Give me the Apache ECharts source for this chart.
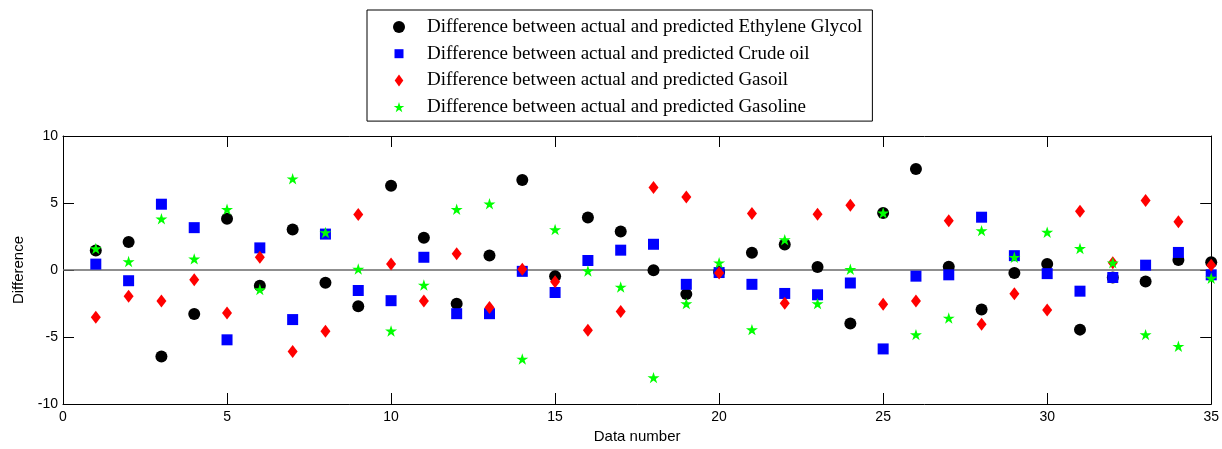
<!DOCTYPE html>
<html>
<head>
<meta charset="utf-8">
<script src="https://cdn.jsdelivr.net/npm/echarts@6/dist/echarts.min.js"></script>
<style>
html,body{margin:0;padding:0;background:#fff;}
#chart{width:1222px;height:449px;}
</style>
</head>
<body>
<div id="chart"></div>
<script>
const dataNumber = [1,2,3,4,5,6,7,8,9,10,11,12,13,14,15,16,17,18,19,20,21,22,23,24,25,26,27,28,29,30,31,32,33,34,35];
const ethyleneGlycol = [1.46, 2.09, -6.45, -3.28, 3.82, -1.17, 3.02, -0.95, -2.7, 6.28, 2.41, -2.51, 1.09, 6.72, -0.46, 3.92, 2.87, -0.02, -1.8, -0.15, 1.29, 1.9, 0.22, -3.99, 4.26, 7.54, 0.24, -2.94, -0.22, 0.44, -4.45, -0.56, -0.85, 0.75, 0.58];
const crudeOil = [0.44, -0.8, 4.91, 3.16, -5.21, 1.65, -3.7, 2.68, -1.53, -2.29, 0.95, -3.26, -3.26, -0.1, -1.68, 0.71, 1.48, 1.92, -1.07, -0.19, -1.07, -1.75, -1.85, -0.97, -5.89, -0.46, -0.36, 3.94, 1.07, -0.27, -1.58, -0.56, 0.36, 1.31, -0.36];
const gasoil = [-3.53, -1.95, -2.31, -0.73, -3.21, 0.95, -6.08, -4.57, 4.14, 0.44, -2.31, 1.22, -2.8, 0.05, -0.88, -4.5, -3.09, 6.16, 5.45, -0.22, 4.21, -2.48, 4.16, 4.84, -2.55, -2.31, 3.67, -4.04, -1.78, -2.99, 4.38, 0.54, 5.18, 3.6, 0.36];
const gasoline = [1.6, 0.63, 3.82, 0.83, 4.53, -1.46, 6.81, 2.8, 0.07, -4.55, -1.12, 4.53, 4.94, -6.64, 3.02, -0.07, -1.27, -8.03, -2.51, 0.54, -4.45, 2.26, -2.51, 0.05, 4.26, -4.82, -3.58, 2.94, 0.95, 2.82, 1.61, 0.54, -4.82, -5.69, -0.61];
const seriesNames = [
  'Difference between actual and predicted Ethylene Glycol',
  'Difference between actual and predicted Crude oil',
  'Difference between actual and predicted Gasoil',
  'Difference between actual and predicted Gasoline'
];
const xTicks = {min: 0, max: 35, interval: 5};
const yTicks = {min: -10, max: 10, interval: 5};

function pairs(vals){ return dataNumber.map((n,i)=>[n, vals[i]]); }

const sansFont = 'Liberation Sans, Arial, sans-serif';
const chart = echarts.init(document.getElementById('chart'), null, {renderer: 'canvas'});

// marker shapes
const starSymbol = 'path://M100,0 L122.45,69.1 L195.11,69.1 L136.33,111.8 L158.78,180.9 L100,138.2 L41.22,180.9 L63.67,111.8 L4.89,69.1 L77.55,69.1 Z';
// legend icons, padded inside a 46x12 box so the glyph sits centred
const legendSquare = 'path://M0,0 M18.5,1.5 L27.5,1.5 L27.5,10.5 L18.5,10.5 Z M46,12';
const legendDiamond = 'path://M0,0 M23,0 L27.3,6 L23,12 L18.7,6 Z M46,12';
const legendStar = 'path://M0,0 M23,1 L24.26,4.87 L28.33,4.87 L25.03,7.26 L26.29,11.13 L23,8.74 L19.71,11.13 L20.97,7.26 L17.67,4.87 L21.74,4.87 Z M46,12';

const axisCommon = {
  type: 'value',
  axisLine: {show: true, onZero: false, lineStyle: {color: '#000', width: 1}},
  axisTick: {show: true, inside: true, length: 11, lineStyle: {color: '#000', width: 1}},
  splitLine: {show: false}
};

chart.setOption({
  animation: false,
  backgroundColor: '#fff',
  grid: {left: 63, right: 9, top: 136, bottom: 39, containLabel: false},
  legend: {
    orient: 'vertical',
    left: 367, top: 10,
    padding: [7, 10, 4, 9],
    itemGap: 6.7,
    itemWidth: 46, itemHeight: 12,
    borderColor: '#000', borderWidth: 1,
    selectedMode: false,
    textStyle: {fontFamily: 'Liberation Serif, Times New Roman, serif', fontSize: 19, color: '#000', lineHeight: 20},
    data: [
      {name: seriesNames[0], icon: 'circle'},
      {name: seriesNames[1], icon: legendSquare},
      {name: seriesNames[2], icon: legendDiamond},
      {name: seriesNames[3], icon: legendStar}
    ]
  },
  xAxis: [
    Object.assign({}, axisCommon, {
      min: xTicks.min, max: xTicks.max, interval: xTicks.interval, position: 'bottom',
      axisLabel: {show: true, fontFamily: sansFont, fontSize: 14, color: '#000', margin: 6},
      name: 'Data number', nameLocation: 'middle', nameGap: 25,
      nameTextStyle: {fontFamily: sansFont, fontSize: 15, color: '#000'}
    }),
    Object.assign({}, axisCommon, {
      min: xTicks.min, max: xTicks.max, interval: xTicks.interval, position: 'top',
      axisLabel: {show: false}
    })
  ],
  yAxis: [
    Object.assign({}, axisCommon, {
      min: yTicks.min, max: yTicks.max, interval: yTicks.interval, position: 'left',
      axisLabel: {show: true, fontFamily: sansFont, fontSize: 14, color: '#000', margin: 5},
      name: 'Difference', nameLocation: 'middle', nameGap: 37, nameRotate: 90,
      nameTextStyle: {fontFamily: sansFont, fontSize: 15, color: '#000'}
    }),
    Object.assign({}, axisCommon, {
      min: yTicks.min, max: yTicks.max, interval: yTicks.interval, position: 'right',
      axisLabel: {show: false}
    })
  ],
  series: [
    {
      name: seriesNames[0], type: 'scatter', xAxisIndex: 0, yAxisIndex: 0,
      symbol: 'circle', symbolSize: 12, z: 2,
      itemStyle: {color: '#000000', opacity: 1},
      data: pairs(ethyleneGlycol),
      markLine: {
        silent: true, z: 1, symbol: ['none', 'none'],
        label: {show: false},
        lineStyle: {color: '#6a6a6a', width: 1.5, type: 'solid'},
        emphasis: {disabled: true},
        data: [{yAxis: 0}]
      }
    },
    {
      name: seriesNames[1], type: 'scatter', xAxisIndex: 0, yAxisIndex: 0,
      symbol: 'rect', symbolSize: 11, z: 2,
      itemStyle: {color: '#0000ff', opacity: 1},
      data: pairs(crudeOil)
    },
    {
      name: seriesNames[2], type: 'scatter', xAxisIndex: 0, yAxisIndex: 0,
      symbol: 'diamond', symbolSize: [10, 13], z: 2,
      itemStyle: {color: '#ff0000', opacity: 1},
      data: pairs(gasoil)
    },
    {
      name: seriesNames[3], type: 'scatter', xAxisIndex: 0, yAxisIndex: 0,
      symbol: starSymbol, symbolSize: [12, 12], symbolKeepAspect: true, z: 2,
      itemStyle: {color: '#00ff00', opacity: 1},
      data: pairs(gasoline)
    }
  ]
});
</script>
</body>
</html>
